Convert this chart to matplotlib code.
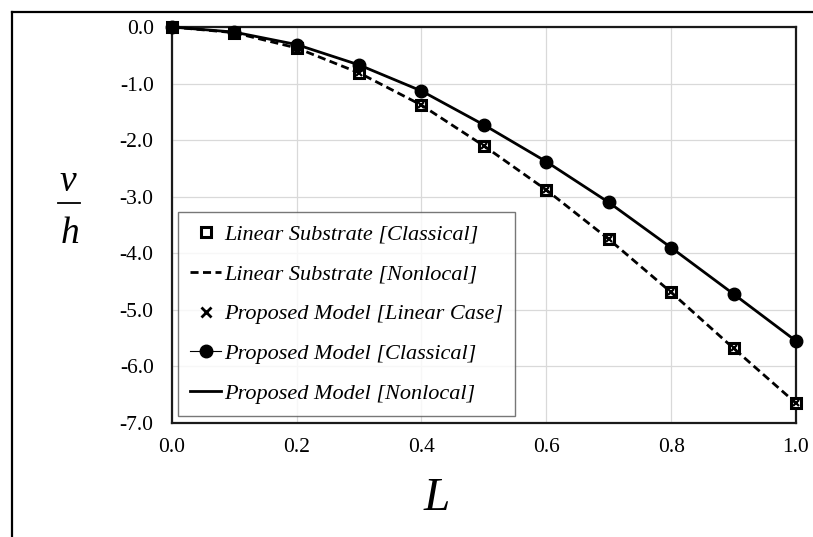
import matplotlib
matplotlib.use("Agg")
import matplotlib.pyplot as plt
from matplotlib.lines import Line2D
from matplotlib.ticker import FormatStrFormatter

# Dimensionless position along the beam
L_vals = [0.0, 0.1, 0.2, 0.3, 0.4, 0.5, 0.6, 0.7, 0.8, 0.9, 1.0]

# Deflection v/h for each model
linear_classical = [0.0, -0.10, -0.37, -0.81, -1.38, -2.10, -2.88, -3.75, -4.69, -5.68, -6.65]
linear_nonlocal = [0.0, -0.10, -0.37, -0.81, -1.38, -2.10, -2.88, -3.75, -4.69, -5.68, -6.65]
proposed_linear = [0.0, -0.10, -0.37, -0.81, -1.38, -2.10, -2.88, -3.75, -4.69, -5.68, -6.65]
proposed_classical = [0.0, -0.09, -0.31, -0.67, -1.13, -1.73, -2.38, -3.10, -3.90, -4.72, -5.55]
proposed_nonlocal = [0.0, -0.09, -0.31, -0.67, -1.13, -1.73, -2.38, -3.10, -3.90, -4.72, -5.55]

x_ticks = [0.0, 0.2, 0.4, 0.6, 0.8, 1.0]
y_ticks = [0.0, -1.0, -2.0, -3.0, -4.0, -5.0, -6.0, -7.0]

serif = ["Liberation Serif", "DejaVu Serif"]
plt.rcParams["font.family"] = serif

W, H = 813, 537
fig = plt.figure(figsize=(W / 100, H / 100), dpi=100)
ax = fig.add_axes([171.7 / W, 1 - 423 / H, (796 - 171.7) / W, (423 - 27) / H])

ax.plot(L_vals, linear_classical, linestyle="none", marker="s", markersize=7.8,
        markerfacecolor="white", markeredgecolor="black", markeredgewidth=2.2,
        clip_on=False, zorder=3, label="Linear Substrate [Classical]")
ax.plot(L_vals, linear_nonlocal, linestyle=(0, (2.9, 1.6)), color="black", linewidth=2.0,
        clip_on=False, zorder=4, label="Linear Substrate [Nonlocal]")
ax.plot(L_vals, proposed_linear, linestyle="none", marker="x", markersize=4.5,
        markeredgecolor="black", markeredgewidth=1.6,
        clip_on=False, zorder=5, label="Proposed Model [Linear Case]")
ax.plot(L_vals, proposed_classical, color="black", linewidth=0.8, marker="o", markersize=9,
        clip_on=False, zorder=6, label="Proposed Model [Classical]")
ax.plot(L_vals, proposed_nonlocal, color="black", linewidth=2.0,
        clip_on=False, zorder=7, label="Proposed Model [Nonlocal]")

ax.set_xlim(0, 1)
ax.set_ylim(-7, 0)
ax.set_xticks(x_ticks)
ax.set_yticks(y_ticks)
ax.xaxis.set_major_formatter(FormatStrFormatter("%.1f"))
ax.yaxis.set_major_formatter(FormatStrFormatter("%.1f"))
ax.tick_params(axis="both", length=0, labelsize=15.5)
ax.tick_params(axis="y", pad=13)
ax.tick_params(axis="x", pad=11)
ax.grid(True, color="#d9d9d9", linewidth=0.9)
ax.set_axisbelow(True)
for s in ax.spines.values():
    s.set_color("#1a1a1a")
    s.set_linewidth(1.6)

leg = ax.legend(loc="lower left", bbox_to_anchor=(0.010, 0.018), borderaxespad=0,
                prop={"family": serif, "style": "italic", "size": 16},
                frameon=True, fancybox=False, edgecolor="#555555",
                handlelength=1.4, handletextpad=0.12, labelspacing=0.86,
                borderpad=0.55)
leg.get_frame().set_linewidth(1.0)
leg.set_zorder(10)
# Larger, bolder symbols in the key
leg.legend_handles[0].set_markersize(7.0)
leg.legend_handles[2].set_markersize(6.5)
leg.legend_handles[2].set_markeredgewidth(2.0)

# Axis titles
fig.text(68 / W, 1 - 182 / H, "v", ha="center", va="center", fontsize=27, style="italic")
fig.add_artist(Line2D([58 / W, 80 / W], [1 - 203 / H, 1 - 203 / H], color="black", linewidth=1.3))
fig.text(70 / W, 1 - 234 / H, "h", ha="center", va="center", fontsize=27, style="italic")
fig.text(437 / W, 1 - 499 / H, "L", ha="center", va="center", fontsize=34, style="italic")

# Outer frame edges
fig.add_artist(Line2D([11.5 / W, 1.0], [1 - 12 / H, 1 - 12 / H], color="black", linewidth=1.6))
fig.add_artist(Line2D([11.5 / W, 11.5 / W], [0.0, 1 - 12 / H], color="black", linewidth=1.6))

fig.savefig("out.png", dpi=100)
